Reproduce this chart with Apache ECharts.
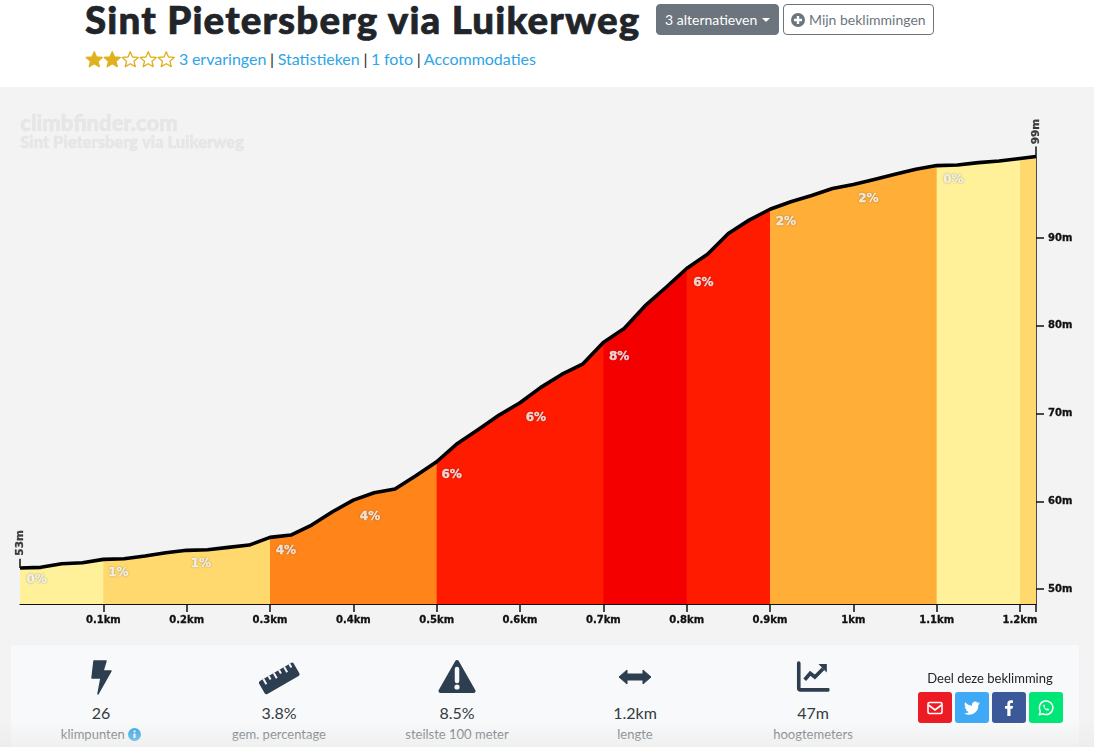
<!DOCTYPE html>
<html lang="nl"><head><meta charset="utf-8"><title>Sint Pietersberg via Luikerweg</title>
<script src="https://cdn.jsdelivr.net/npm/echarts@6/dist/echarts.min.js"></script>
<style>
html,body{margin:0;padding:0;width:1094px;height:747px;overflow:hidden;background:#fff;font-family:Lato,sans-serif;color:#212529}
.abs{position:absolute}
#title{left:85px;top:-6px;font:900 38.5px/50px Lato,sans-serif;color:#212529;white-space:nowrap;letter-spacing:1.15px;-webkit-text-stroke:.7px #212529}
.btn{top:4px;height:31px;box-sizing:border-box;border-radius:4px;font-size:14px;line-height:29px;white-space:nowrap;text-align:center}
#b1{left:656px;width:123px;background:#6c757d;color:#fff;border:1px solid #6c757d}
#b2{left:783px;width:151px;background:#fff;color:#6c757d;border:1px solid #6c757d}
#links{left:179px;top:49px;font-size:16px;line-height:20px;white-space:nowrap;word-spacing:-.45px}
#links a{color:#2ea5e6;text-decoration:none}
#chart{left:0;top:87px;width:1094px;height:660px;background:#f3f3f3}
#panel{left:11px;top:645px;width:1068px;height:102px;background:#f8f9fa}
#fade{left:0;top:722px;width:1094px;height:25px;background:linear-gradient(rgba(235,235,235,0),rgba(232,232,232,.55))}
.stat{top:658px;width:178px;text-align:center}
.stat svg{display:block;margin:0 auto;height:38px}
.val{position:absolute;left:0;right:0;top:45px;font-size:16px;line-height:20px;color:#343a40}
.lab{position:absolute;left:0;right:0;top:68px;font-size:13px;line-height:17px;color:#6c757d}
#share{left:900px;width:180px;top:670px;text-align:center;font-size:13px;line-height:17px;color:#212529}
.sb{position:absolute;top:692px;width:34px;height:31px;border-radius:3px}
.sb svg{position:absolute;left:8px;top:7px;width:18px;height:18px}
</style></head><body>
<div id="chart" class="abs"></div>
<div id="title" class="abs">Sint Pietersberg via Luikerweg</div>
<div id="b1" class="abs btn">3 alternatieven <span style="display:inline-block;border-top:4.5px solid #fff;border-left:4.5px solid transparent;border-right:4.5px solid transparent;vertical-align:3px;margin-left:1px"></span></div>
<div id="b2" class="abs btn"><svg width="14" height="14" viewBox="0 0 14 14" style="vertical-align:-2px"><circle cx="7" cy="7" r="7" fill="#6c757d"/><path d="M7 3v8M3 7h8" stroke="#fff" stroke-width="2.4"/></svg> Mijn beklimmingen</div>
<svg class="abs" style="left:85px;top:50px" width="91" height="19" viewBox="0 0 88.500 18">
<g stroke="#e0b11f" stroke-width="1.3" stroke-linejoin="round">
<polygon fill="#e0b11f" points="9,1.5 11.2,6.6 16.8,7 12.6,10.6 13.9,16 9,13.1 4.1,16 5.4,10.6 1.2,7 6.8,6.6"/>
<polygon fill="#e0b11f" transform="translate(17.5 0)" points="9,1.5 11.2,6.6 16.8,7 12.6,10.6 13.9,16 9,13.1 4.1,16 5.4,10.6 1.2,7 6.8,6.6"/>
<polygon fill="none" transform="translate(35 0)" points="9,1.5 11.2,6.6 16.8,7 12.6,10.6 13.9,16 9,13.1 4.1,16 5.4,10.6 1.2,7 6.8,6.6"/>
<polygon fill="none" transform="translate(52.5 0)" points="9,1.5 11.2,6.6 16.8,7 12.6,10.6 13.9,16 9,13.1 4.1,16 5.4,10.6 1.2,7 6.8,6.6"/>
<polygon fill="none" transform="translate(70 0)" points="9,1.5 11.2,6.6 16.8,7 12.6,10.6 13.9,16 9,13.1 4.1,16 5.4,10.6 1.2,7 6.8,6.6"/>
</g></svg>
<div id="links" class="abs"><a>3 ervaringen</a> | <a>Statistieken</a> | <a>1 foto</a> | <a>Accommodaties</a></div>
<div id="panel" class="abs"></div>
<div class="abs stat" style="left:12px"><svg viewBox="0 0 24 38" width="24"><path fill="#2c3e50" d="M5 3h12l-3 10h8L9 36l3-16H3z" stroke="#2c3e50" stroke-width="1.5" stroke-linejoin="round"/></svg><div class="val">26</div><div class="lab">klimpunten <svg style="display:inline;height:13px;width:13px;vertical-align:-2px;margin:0" viewBox="0 0 13 13"><circle cx="6.5" cy="6.5" r="6.5" fill="#2ea5e6"/><path d="M6.5 5.5v4.5M6.5 2.5v1.7" stroke="#fff" stroke-width="2"/></svg></div></div>
<div class="abs stat" style="left:190px"><svg viewBox="0 0 44 38" width="44"><g transform="rotate(-30 22 20)"><rect x="2" y="13" width="40" height="15" rx="2" fill="#2c3e50"/><path d="M8 13v6M14 13v4M20 13v6M26 13v4M32 13v6M38 13v4" stroke="#f8f9fa" stroke-width="2"/></g></svg><div class="val">3.8%</div><div class="lab">gem. percentage</div></div>
<div class="abs stat" style="left:368px"><svg viewBox="0 0 38 38" width="38"><path d="M19 4L35.5 33H2.5Z" fill="#2c3e50" stroke="#2c3e50" stroke-width="4" stroke-linejoin="round"/><path d="M19 11v12" stroke="#f8f9fa" stroke-width="4.5" stroke-linecap="round"/><circle cx="19" cy="29" r="2.6" fill="#f8f9fa"/></svg><div class="val">8.5%</div><div class="lab">steilste 100 meter</div></div>
<div class="abs stat" style="left:546px"><svg viewBox="0 0 34 38" width="34"><path d="M1 19l8-7v4h16v-4l8 7-8 7v-4H9v4z" fill="#2c3e50" stroke="#2c3e50" stroke-linejoin="round"/></svg><div class="val">1.2km</div><div class="lab">lengte</div></div>
<div class="abs stat" style="left:724px"><svg viewBox="0 0 36 38" width="36" style="transform:scale(.92)"><path d="M2.500 4v27a2 2 0 0 0 2 2h30" fill="none" stroke="#2c3e50" stroke-width="4" stroke-linecap="round"/><path d="M9 22l6-7 5 4 9-9" fill="none" stroke="#2c3e50" stroke-width="4"/><path d="M24 5h9v9z" fill="#2c3e50"/></svg><div class="val">47m</div><div class="lab">hoogtemeters</div></div>
<div id="share" class="abs">Deel deze beklimming</div>
<div class="sb abs" style="left:918px;background:#ed1c24"><svg viewBox="0 0 18 18"><rect x="2" y="3.500" width="14" height="11" rx="1.500" fill="none" stroke="#fff" stroke-width="1.600"/><path d="M2.500 6l6.500 5 6.500-5" fill="none" stroke="#fff" stroke-width="1.600"/></svg></div>
<div class="sb abs" style="left:955px;background:#3fa9f5"><svg viewBox="0 0 18 18"><path fill="#fff" d="M17 4.200c-.6.3-1.200.4-1.900.5.7-.4 1.200-1 1.400-1.800-.6.4-1.300.6-2 .8a3.300 3.300 0 0 0-5.600 3C6.200 6.600 3.800 5.300 2.200 3.300a3.300 3.300 0 0 0 1 4.400c-.5 0-1-.2-1.500-.4 0 1.600 1.100 3 2.600 3.300-.5.1-1 .1-1.500 0 .4 1.300 1.600 2.200 3.100 2.300A6.600 6.600 0 0 1 1 14.200a9.300 9.300 0 0 0 14.300-8.300c.7-.4 1.200-1 1.700-1.700z"/></svg></div>
<div class="sb abs" style="left:992px;background:#3b5998"><svg viewBox="0 0 18 18"><path fill="#fff" d="M7.300 17V9.800H5V7h2.300V5c0-2.400 1.400-3.700 3.500-3.700 1 0 1.900.1 2.100.1v2.500h-1.500c-1.100 0-1.300.5-1.300 1.300V7H13l-.4 2.800h-2.100V17z"/></svg></div>
<div class="sb abs" style="left:1029px;background:#00e676"><svg viewBox="0 0 18 18"><path d="M2.300 15.700l1-3.400A6.800 6.800 0 1 1 6 14.800z" fill="none" stroke="#fff" stroke-width="1.500" stroke-linejoin="round"/><path d="M6.500 5.800c-.8 1 0 2.800 1.400 4.200s3 2 4 1.300l.3-1.100-1.800-.9-.7.700c-.8-.3-1.800-1.200-2.200-2.100l.6-.7-.8-1.700z" fill="#fff"/></svg></div>
<div id="fade" class="abs"></div>
<script>
const distanceKm = [0,0.025,0.05,0.075,0.1,0.125,0.15,0.175,0.2,0.225,0.25,0.275,0.3,0.325,0.35,0.375,0.4,0.425,0.45,0.475,0.5,0.525,0.55,0.575,0.6,0.625,0.65,0.675,0.7,0.725,0.75,0.775,0.8,0.825,0.85,0.875,0.9,0.925,0.95,0.975,1,1.025,1.05,1.075,1.1,1.125,1.15,1.175,1.2,1.2192];
const elevationM = [52.39,52.47,52.88,53.0,53.38,53.45,53.76,54.14,54.41,54.48,54.75,55.01,55.89,56.15,57.29,58.81,60.14,60.97,61.40,62.91,64.51,66.6,68.2,69.83,71.23,72.99,74.47,75.64,78.11,79.71,82.28,84.38,86.55,88.18,90.54,92.06,93.3,94.16,94.87,95.66,96.12,96.69,97.29,97.86,98.28,98.35,98.62,98.8,99.08,99.31];
const sectionStart = [0,0.1,0.3,0.5,0.7,0.8,0.9,1.1,1.2];
const sectionColor = ['#fff09a','#ffd96e','#ff851b','#ff1b00','#f50000','#ff1b00','#ffae38','#fff09a','#ffd96e'];
const gradeLabel = ['0%','1%','1%','4%','4%','6%','6%','8%','6%','2%','2%','0%'];
const gradeKm = [0.02,0.118,0.217,0.319,0.42,0.518,0.619,0.719,0.82,0.919,1.018,1.12];
const gradeEl = [51.03,51.82,52.85,54.3,58.25,63.0,69.5,76.5,84.85,91.85,94.5,96.6];
const xTicks = [0.1,0.2,0.3,0.4,0.5,0.6,0.7,0.8,0.9,1,1.1,1.2];
const yTicks = [50,60,70,80,90];
const xMax = 1.2192, yMin = 48.29, yMax = 100.4;
const startMark = [[0,52.39],[0,53.45]];
const axisFont = '"DejaVu Sans",sans-serif';

const pts = distanceKm.map((d,i)=>[d,elevationM[i]]);
// Each band runs on to the summit and the next band paints over it, so no seams show.
const areaSeries = sectionColor.map((c,i)=>({
  type:'line', data:pts.filter(p=>p[0]>=sectionStart[i]),
  showSymbol:false, silent:true, lineStyle:{width:0}, areaStyle:{color:c,opacity:1},
  itemStyle:{color:c}, z:2, animation:false
}));
const chart = echarts.init(document.getElementById('chart'),null,{renderer:'canvas'});
chart.setOption({
  animation:false, backgroundColor:'transparent',
  grid:{left:20,right:58,top:60,height:457,containLabel:false},
  xAxis:{type:'value',min:0,max:xMax,
    axisLine:{show:true,onZero:false,lineStyle:{color:'#111',width:1.2}},
    splitLine:{show:false},
    axisTick:{show:true,length:8,lineStyle:{color:'#111',width:1.5},customValues:xTicks.concat([xMax])},
    axisLabel:{customValues:xTicks,margin:11,color:'#111',fontFamily:axisFont,fontWeight:'bold',fontSize:10,textBorderColor:'#111',textBorderWidth:.3,formatter:v=>v+'km',hideOverlap:false}},
  yAxis:{type:'value',position:'right',min:yMin,max:yMax,
    axisLine:{show:true,onZero:false,lineStyle:{color:'#111',width:1.5}},
    splitLine:{show:false},
    axisTick:{show:true,length:8,lineStyle:{color:'#111',width:1.5},customValues:yTicks},
    axisLabel:{customValues:yTicks,margin:12,padding:[2,0,0,0],color:'#111',fontFamily:axisFont,fontWeight:'bold',fontSize:10,textBorderColor:'#111',textBorderWidth:.3,formatter:v=>v+'m'}},
  graphic:[
    {type:'text',left:20,top:26,silent:true,style:{text:'climbfinder.com',fill:'#e6e6e6',stroke:'#e6e6e6',lineWidth:.6,font:'900 22px Lato,sans-serif'}},
    {type:'text',left:20,top:47,silent:true,style:{text:'Sint Pietersberg via Luikerweg',fill:'#e6e6e6',stroke:'#e6e6e6',lineWidth:.6,font:'900 16.5px Lato,sans-serif'}}
  ],
  series:[...areaSeries,
    {type:'line',data:pts,showSymbol:false,silent:true,clip:false,z:5,lineStyle:{color:'#000',width:3.6,join:'round'},itemStyle:{color:'#000'}},
    {type:'line',data:startMark,showSymbol:false,silent:true,clip:false,z:6,lineStyle:{color:'#111',width:1.5},itemStyle:{color:'#111'}},
    {type:'scatter',symbolSize:0,silent:true,clip:false,z:7,
      data:[{value:[0,53.8],name:'53m'},{value:[xMax,100.7],name:'99m'}],
      label:{show:true,position:[0,0],rotate:90,align:'left',verticalAlign:'middle',formatter:'{b}',color:'#111',fontFamily:axisFont,fontWeight:'bold',fontSize:10.5,textBorderColor:'#111',textBorderWidth:.3}},
    {type:'scatter',symbolSize:0,silent:true,z:8,
      data:gradeKm.map((k,i)=>({value:[k,gradeEl[i]],name:gradeLabel[i]})),
      label:{show:true,position:[0,0],align:'center',verticalAlign:'middle',formatter:'{b}',color:'#fff',fontFamily:axisFont,fontWeight:'bold',fontSize:12,textBorderColor:'#fff',textBorderWidth:.4,textShadowColor:'rgba(0,0,0,.35)',textShadowBlur:2}}
  ]
});
</script>
</body></html>
